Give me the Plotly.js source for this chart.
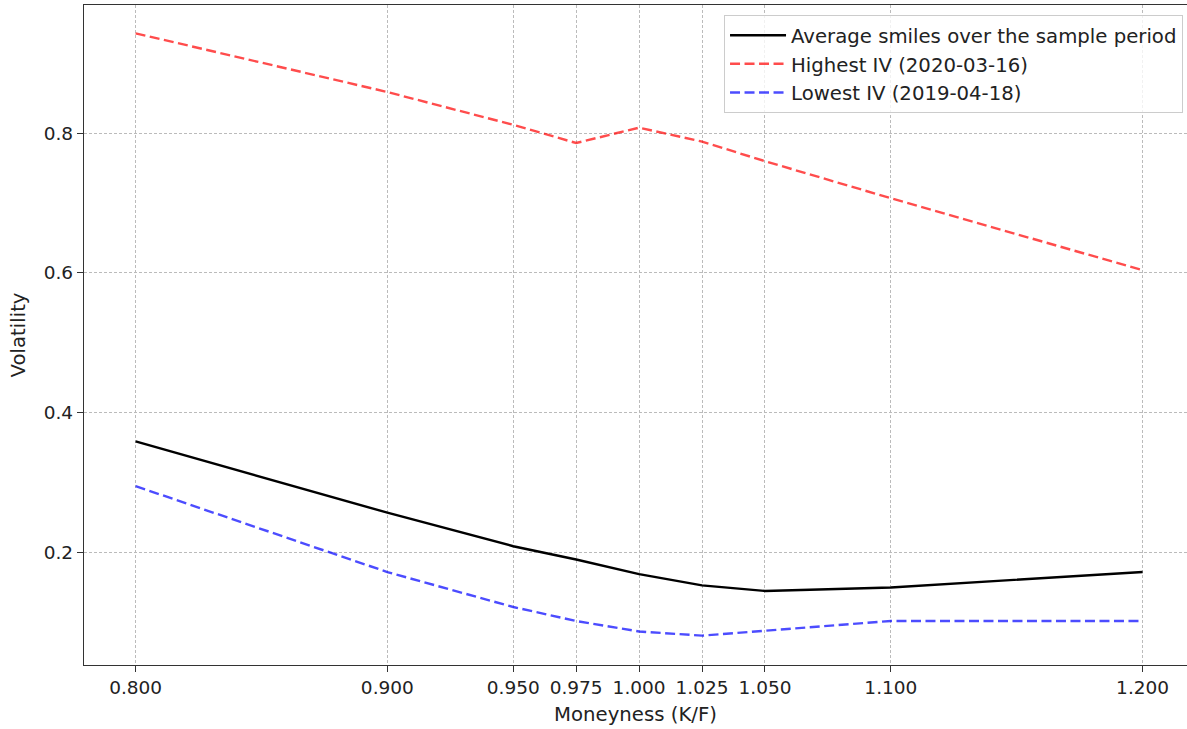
<!DOCTYPE html>
<html>
<head>
<meta charset="utf-8">
<script src="https://cdn.plot.ly/plotly-3.0.1.min.js"></script>
<style>
html, body { margin: 0; padding: 0; overflow: hidden; background: #fff; }
#chart { width: 1187px; height: 729px; }
</style>
</head>
<body>
<div id="chart"></div>
<script>
const moneyness = [0.800, 0.900, 0.950, 0.975, 1.000, 1.025, 1.050, 1.100, 1.200];
const tickLabels = ["0.800", "0.900", "0.950", "0.975", "1.000", "1.025", "1.050", "1.100", "1.200"];
const averageSmile = [0.359, 0.257, 0.209, 0.190, 0.169, 0.153, 0.145, 0.150, 0.172];
const highestIV = [0.943, 0.859, 0.812, 0.786, 0.808, 0.788, 0.760, 0.707, 0.604];
const lowestIV = [0.295, 0.172, 0.122, 0.102, 0.087, 0.081, 0.088, 0.102, 0.102];
const seriesNames = ["Average smiles over the sample period", "Highest IV (2020-03-16)", "Lowest IV (2019-04-18)"];
const yTickVals = [0.2, 0.4, 0.6, 0.8];
const yTickLabels = ["0.2", "0.4", "0.6", "0.8"];

const traces = [
  { x: moneyness, y: averageSmile, name: seriesNames[0], mode: "lines",
    line: { color: "#000000", width: 2.4 } },
  { x: moneyness, y: highestIV, name: seriesNames[1], mode: "lines",
    line: { color: "rgba(255,0,0,0.7)", width: 2.4, dash: "10px,4.5px" } },
  { x: moneyness, y: lowestIV, name: seriesNames[2], mode: "lines",
    line: { color: "rgba(0,0,255,0.7)", width: 2.4, dash: "10px,4.5px" } }
];

const tickFont = { family: "DejaVu Sans, sans-serif", size: 18.5, color: "#222" };
const titleFont = { family: "DejaVu Sans, sans-serif", size: 19.7, color: "#222" };

const layout = {
  width: 1187, height: 729,
  margin: { l: 84, r: 0, t: 5, b: 64 },
  paper_bgcolor: "#fff", plot_bgcolor: "#fff",
  font: tickFont,
  showlegend: true,
  legend: {
    x: 0.9964, y: 0.985, xanchor: "right", yanchor: "top",
    bgcolor: "rgba(255,255,255,0.8)", bordercolor: "#cccccc", borderwidth: 1,
    font: titleFont, itemwidth: 56,
    tracegroupgap: 0
  },
  xaxis: {
    range: [0.7795, 1.21764],
    tickmode: "array", tickvals: moneyness, ticktext: tickLabels,
    showgrid: true, gridcolor: "#bbbbbb", gridwidth: 0.8, griddash: "3px,2px",
    zeroline: false,
    showline: true, linecolor: "#333", linewidth: 1.3, mirror: true,
    ticks: "outside", ticklen: 6, tickwidth: 1.3, tickcolor: "#333",
    tickfont: tickFont,
    title: { text: "Moneyness (K/F)", font: titleFont, standoff: 9 }
  },
  yaxis: {
    range: [0.039, 0.9835],
    tickmode: "array", tickvals: yTickVals, ticktext: yTickLabels,
    showgrid: true, gridcolor: "#bbbbbb", gridwidth: 0.8, griddash: "3px,2px",
    zeroline: false,
    showline: true, linecolor: "#333", linewidth: 1.3, mirror: false,
    ticks: "outside", ticklen: 6, tickwidth: 1.3, tickcolor: "#333",
    tickfont: tickFont,
    title: { text: "Volatility", font: titleFont, standoff: 12 }
  }
};

Plotly.newPlot("chart", traces, layout, { displayModeBar: false, responsive: false });
</script>
</body>
</html>
